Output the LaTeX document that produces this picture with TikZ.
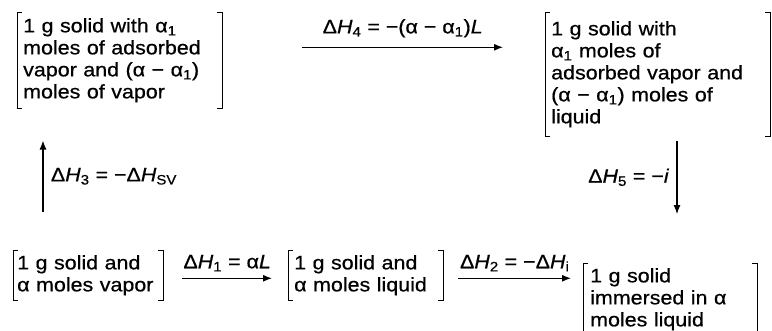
\documentclass[tikz,border=0pt]{standalone}
\usepackage{fontspec}
\setmainfont[FakeStretch=1.1,FakeBold=0.6]{Liberation Sans}
\usetikzlibrary{arrows.meta}
\tikzset{
  state/.style={anchor=north west, align=left, inner xsep=6pt, inner ysep=5pt},
  trans/.style={-{Latex[length=9pt,width=7pt]}, line width=1.1pt},
}
\begin{document}
\begin{tikzpicture}[x=1pt,y=-1pt,every node/.style={font=\fontsize{19.5}{22}\selectfont}]
\path[use as bounding box,clip] (0,0) rectangle (772,330);
\node[state,text width=193pt,inner ysep=6pt] (sv) at (17,12) {1 g solid with α\textsubscript{1}\\moles of adsorbed\\vapor and (α − α\textsubscript{1})\\moles of vapor};
\node[state,text width=213pt,inner ysep=9pt] (sl) at (545,12) {1 g solid with\\α\textsubscript{1} moles of\\adsorbed vapor and\\(α − α\textsubscript{1}) moles of\\liquid};
\node[state,text width=142pt,inner xsep=4pt] (gv) at (13,250) {1 g solid and\\α moles vapor};
\node[state,text width=143pt] (gl) at (288,250) {1 g solid and\\α moles liquid};
\node[state,text width=160pt,inner xsep=7pt] (im) at (583,263) {1 g solid\\immersed in α\\moles liquid};
% brackets round the states
\foreach \n in {sv,sl,gv,gl,im}{
  \draw[line width=1pt] ([xshift=5pt]\n.north west) -- (\n.north west) -- (\n.south west) -- ([xshift=5pt]\n.south west);
  \draw[line width=1pt] ([xshift=-5pt]\n.north east) -- (\n.north east) -- (\n.south east) -- ([xshift=-5pt]\n.south east);
}
\draw[trans] ([xshift=19pt,yshift=-3pt]gv.east) -- node[above=3pt]{Δ\textit{H}\textsubscript{1} = α\textit{L}} ([xshift=-16pt,yshift=-3pt]gv.east -| gl.west);
\draw[trans] ([xshift=15pt,yshift=-3pt]gl.east) -- node[above=3pt]{Δ\textit{H}\textsubscript{2} = −Δ\textit{H}\textsubscript{i}} ([xshift=-12pt,yshift=-3pt]gl.east -| im.west);
\draw[trans] ([xshift=30pt,yshift=38pt]gv.north west) -- node[right=4pt]{Δ\textit{H}\textsubscript{3} = −Δ\textit{H}\textsubscript{SV}} ([xshift=26pt,yshift=-32pt]sv.south west);
\draw[trans] ([xshift=80pt,yshift=13pt]sv.east) -- node[above=6pt]{Δ\textit{H}\textsubscript{4} = −(α − α\textsubscript{1})\textit{L}} ([xshift=-42pt,yshift=13pt]sv.east -| sl.west);
\draw[trans] ([xshift=132pt,yshift=-4pt]sl.south west) -- node[left=4pt]{Δ\textit{H}\textsubscript{5} = −\textit{i}} ([xshift=94pt,yshift=49pt]im.north west);
\end{tikzpicture}
\end{document}
